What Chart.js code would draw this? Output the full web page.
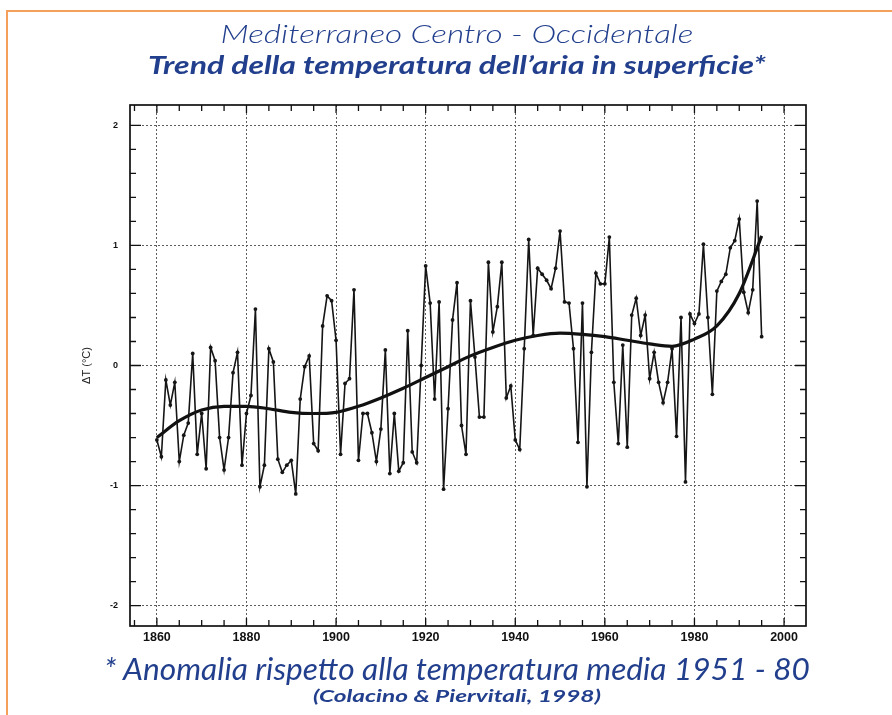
<!DOCTYPE html>
<html>
<head>
<meta charset="utf-8">
<script src="https://cdn.jsdelivr.net/npm/chart.js@4.4.1/dist/chart.umd.min.js"></script>
<style>
  html, body { margin: 0; padding: 0; background: #ffffff; }
  #wrap { position: relative; width: 892px; height: 715px; overflow: hidden; background: #fff; }
  #frame { position: absolute; left: 6px; top: 10px; width: 900px; height: 720px;
           border-top: 2px solid #f5a05a; border-left: 2px solid #f5a05a; box-sizing: border-box; }
  canvas { position: absolute; left: 0; top: 0; }
  .t { position: absolute; left: 457px; transform: translateX(-50%); transform-origin: center top;
       white-space: nowrap; color: #223f8d; font-family: "Lato", "Open Sans", sans-serif; font-style: italic; }
  #t1 { top: 17px; font-size: 26px; font-weight: 300; }
  #t2 { top: 50px; font-size: 24.5px; font-weight: 700; }
  #t3 { top: 650px; font-size: 30px; font-weight: 400; }
  #t4 { top: 685px; font-size: 17px; font-weight: 700; }
</style>
</head>
<body>
<div id="wrap">
  <div id="frame"></div>
  <canvas id="c" width="892" height="715"></canvas>
  <div class="t" id="t1" data-w="473">Mediterraneo Centro - Occidentale</div>
  <div class="t" id="t2" data-w="618">Trend della temperatura dell’aria in superficie*</div>
  <div class="t" id="t3" data-w="706">* Anomalia rispetto alla temperatura media 1951 - 80</div>
  <div class="t" id="t4" data-w="288">(Colacino &amp; Piervitali, 1998)</div>
</div>
<script>
// ---- data ----
const years = [
  1860,1861,1862,1863,1864,1865,1866,1867,1868,1869,
  1870,1871,1872,1873,1874,1875,1876,1877,1878,1879,
  1880,1881,1882,1883,1884,1885,1886,1887,1888,1889,
  1890,1891,1892,1893,1894,1895,1896,1897,1898,1899,
  1900,1901,1902,1903,1904,1905,1906,1907,1908,1909,
  1910,1911,1912,1913,1914,1915,1916,1917,1918,1919,
  1920,1921,1922,1923,1924,1925,1926,1927,1928,1929,
  1930,1931,1932,1933,1934,1935,1936,1937,1938,1939,
  1940,1941,1942,1943,1944,1945,1946,1947,1948,1949,
  1950,1951,1952,1953,1954,1955,1956,1957,1958,1959,
  1960,1961,1962,1963,1964,1965,1966,1967,1968,1969,
  1970,1971,1972,1973,1974,1975,1976,1977,1978,1979,
  1980,1981,1982,1983,1984,1985,1986,1987,1988,1989,
  1990,1991,1992,1993,1994,1995
];
const anomaly = [
  -0.62,-0.76,-0.12,-0.33,-0.14,-0.80,-0.58,-0.48, 0.10,-0.74,
  -0.40,-0.86, 0.15, 0.04,-0.60,-0.87,-0.60,-0.06, 0.11,-0.83,
  -0.40,-0.25, 0.47,-1.01,-0.83, 0.14, 0.03,-0.78,-0.89,-0.83,
  -0.79,-1.07,-0.28,-0.01, 0.08,-0.65,-0.71, 0.33, 0.58, 0.54,
   0.21,-0.74,-0.15,-0.11, 0.63,-0.79,-0.40,-0.40,-0.56,-0.80,
  -0.53, 0.13,-0.90,-0.40,-0.88,-0.81, 0.29,-0.72,-0.81, 0.00,
   0.83, 0.52,-0.28, 0.53,-1.03,-0.36, 0.38, 0.69,-0.50,-0.74,
   0.54, 0.07,-0.43,-0.43, 0.86, 0.28, 0.49, 0.86,-0.27,-0.17,
  -0.62,-0.70, 0.14, 1.05, 0.25, 0.81, 0.76, 0.71, 0.64, 0.81,
   1.12, 0.53, 0.52, 0.14,-0.64, 0.52,-1.01, 0.11, 0.77, 0.68,
   0.68, 1.07,-0.14,-0.65, 0.17,-0.68, 0.42, 0.56, 0.25, 0.42,
  -0.11, 0.11,-0.14,-0.31,-0.14, 0.14,-0.59, 0.40,-0.97, 0.43,
   0.35, 0.43, 1.01, 0.40,-0.24, 0.62, 0.70, 0.76, 0.98, 1.04,
   1.22, 0.61, 0.44, 0.63, 1.37, 0.24
];
const trendYears = [1860,1865,1870,1875,1880,1885,1890,1895,1900,1905,1910,1915,1920,1925,
                    1930,1935,1940,1945,1950,1955,1960,1965,1970,1975,1980,1985,1990,1995];
const trendValues = [-0.60,-0.46,-0.37,-0.34,-0.34,-0.36,-0.39,-0.40,-0.39,-0.34,-0.27,-0.19,-0.10,-0.01,
                     0.08,0.15,0.21,0.25,0.27,0.26,0.24,0.21,0.18,0.16,0.22,0.33,0.60,1.08];
const xTickLabels = [1860,1880,1900,1920,1940,1960,1980,2000];
const yTickLabels = [-2,-1,0,1,2];

// fit title widths to the reference layout
document.querySelectorAll('.t').forEach(el => {
  const w = el.getBoundingClientRect().width;
  const target = parseFloat(el.dataset.w);
  el.style.transform = 'translateX(-50%) scaleX(' + (target / w).toFixed(4) + ')';
});

// ---- frame / minor tick plugin ----
const framePlugin = {
  id: 'frameTicks',
  afterDraw(chart) {
    const {ctx, chartArea: a, scales: {x, y}} = chart;
    ctx.save();
    ctx.strokeStyle = '#111';
    ctx.lineWidth = 1.7;
    ctx.strokeRect(a.left, a.top, a.right - a.left, a.bottom - a.top);
    ctx.lineWidth = 1.3;
    ctx.beginPath();
    for (let v = 1855; v <= 2005; v += 5) {
      const px = x.getPixelForValue(v);
      if (px < a.left || px > a.right) continue;
      const len = (v % 20 === 0) ? 8 : 6;
      ctx.moveTo(px, a.bottom); ctx.lineTo(px, a.bottom - len);
      ctx.moveTo(px, a.top); ctx.lineTo(px, a.top + len);
    }
    for (let k = -10; k <= 10; k++) {
      const v = k / 5;
      const py = y.getPixelForValue(v);
      const major = (k % 5 === 0);
      const len = major ? 11 : 6;
      ctx.moveTo(a.left, py); ctx.lineTo(a.left + len, py);
      ctx.moveTo(a.right, py); ctx.lineTo(a.right - len, py);
    }
    ctx.stroke();
    ctx.restore();
  }
};

const gridColor = '#5e5e5e';
new Chart(document.getElementById('c'), {
  type: 'line',
  data: {
    datasets: [
      {
        label: 'Anomalia',
        data: years.map((yr, i) => ({x: yr, y: anomaly[i]})),
        borderColor: '#151515',
        backgroundColor: '#151515',
        borderWidth: 1.6,
        pointRadius: 1.9,
        pointBorderWidth: 0,
        tension: 0
      },
      {
        label: 'Trend',
        data: trendYears.map((yr, i) => ({x: yr, y: trendValues[i]})),
        borderColor: '#111',
        backgroundColor: '#111',
        borderWidth: 3.2,
        pointRadius: 0,
        cubicInterpolationMode: 'monotone'
      }
    ]
  },
  options: {
    responsive: false,
    animation: false,
    layout: { padding: { left: 60, right: 86, top: 105, bottom: 59 } },
    plugins: { legend: { display: false }, tooltip: { enabled: false } },
    scales: {
      x: {
        type: 'linear',
        min: 1854, max: 2004.9,
        afterFit: s => { s.height = 30; },
        afterBuildTicks: s => { s.ticks = xTickLabels.map(v => ({value: v})); },
        grid: { color: gridColor, lineWidth: 1, drawTicks: false },
        border: { display: false, dash: [2, 2] },
        ticks: {
          padding: 4, color: '#111', maxRotation: 0, autoSkip: false,
          font: { family: 'Liberation Sans, Arial, sans-serif', size: 12.5, weight: 'bold' },
          callback: v => String(v)
        }
      },
      y: {
        min: -2.17, max: 2.17,
        afterFit: s => { s.width = 70; },
        afterBuildTicks: s => { s.ticks = yTickLabels.map(v => ({value: v})); },
        grid: { color: gridColor, lineWidth: 1, drawTicks: false },
        border: { display: false, dash: [2, 2] },
        ticks: {
          padding: 12, color: '#111',
          font: { family: 'Liberation Sans, Arial, sans-serif', size: 9, weight: 'bold' },
          callback: v => String(v)
        },
        title: {
          display: true, text: 'ΔT (°C)', color: '#222',
          font: { family: 'Liberation Sans, Arial, sans-serif', size: 11 },
          padding: { top: 20, bottom: 0 }
        }
      }
    }
  },
  plugins: [framePlugin]
});
</script>
</body>
</html>
